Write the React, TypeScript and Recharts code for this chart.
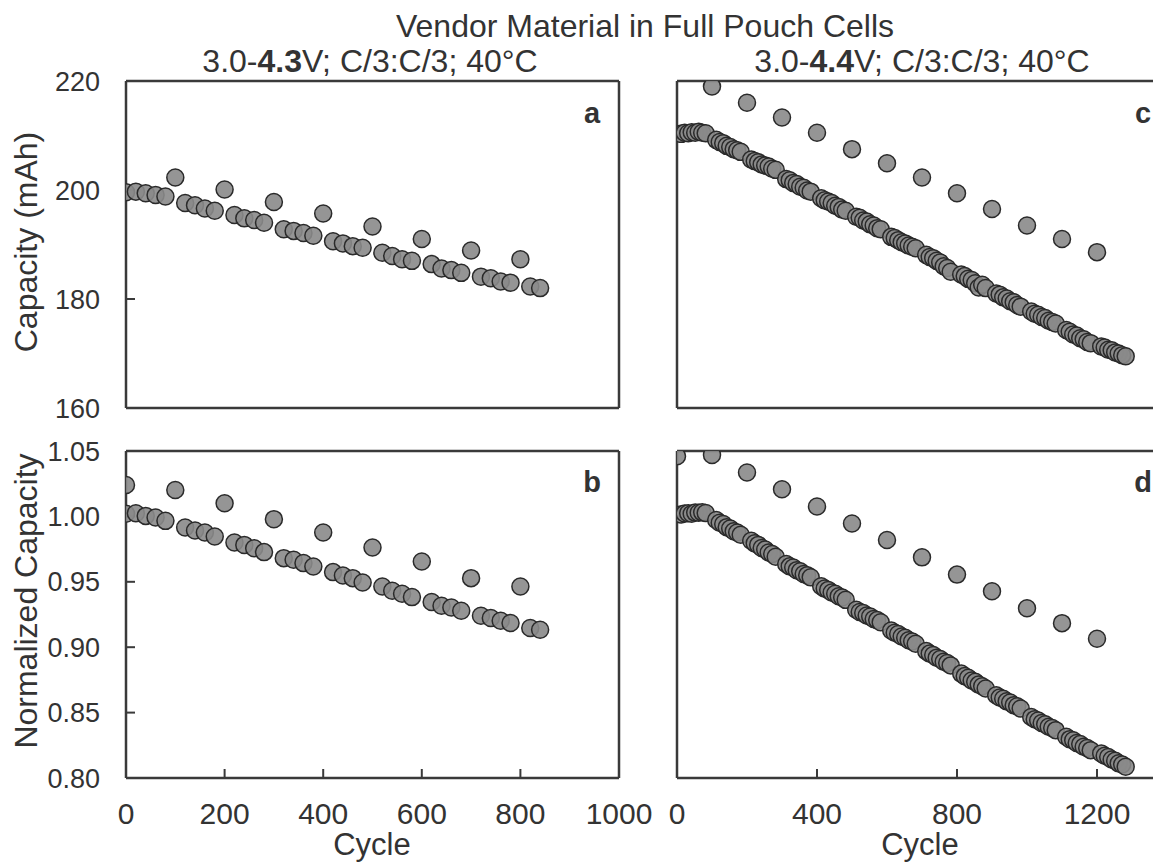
import React from 'react';
import { ScatterChart, Scatter, XAxis, YAxis } from 'recharts';

// 3.0-4.3V cell (panels a, b)
const cyclesLow = [
  0, 20, 40, 60, 80, 120, 140, 160, 180, 220, 240, 260, 280, 320, 340, 360, 380, 420,
  440, 460, 480, 520, 540, 560, 580, 620, 640, 660, 680, 720, 740, 760, 780, 820, 840,
];
const capLow = [
  199.6, 199.7, 199.4, 199.1, 198.8, 197.6, 197.2, 196.6, 196.2, 195.4, 194.8, 194.5, 194.0,
  192.8, 192.5, 192.1, 191.6, 190.6, 190.2, 189.7, 189.4, 188.5, 187.9, 187.3, 187.0, 186.4,
  185.6, 185.3, 184.8, 184.1, 183.8, 183.2, 183.0, 182.3, 182.0,
];
const normLow = [
  1.002, 1.0024, 1.0004, 0.9991, 0.9966, 0.9915, 0.9892, 0.9877, 0.9846, 0.98, 0.9782, 0.9757,
  0.9727, 0.9681, 0.9668, 0.9643, 0.9617, 0.9574, 0.9548, 0.9528, 0.9495, 0.9464, 0.9431,
  0.9408, 0.9383, 0.9345, 0.9317, 0.9304, 0.9279, 0.924, 0.9223, 0.9202, 0.9185, 0.9147, 0.9134,
];
const checkCyclesLowCap = [100, 200, 300, 400, 500, 600, 700, 800];
const checkCapLow = [202.3, 200.1, 197.8, 195.7, 193.3, 191.0, 188.9, 187.3];
const checkCyclesLowNorm = [0, 100, 200, 300, 400, 500, 600, 700, 800];
const checkNormLow = [1.024, 1.0202, 1.0101, 0.9979, 0.9877, 0.9762, 0.9655, 0.9528, 0.9464];

// 3.0-4.4V cell (panels c, d)
const cyclesHigh = [
  12, 22, 32, 42, 52, 62, 72, 82,
  112, 122, 132, 142, 152, 162, 172, 182,
  212, 222, 232, 242, 252, 262, 272, 282,
  312, 322, 332, 342, 352, 362, 372, 382,
  412, 422, 432, 442, 452, 462, 472, 482,
  512, 522, 532, 542, 552, 562, 572, 582,
  612, 622, 632, 642, 652, 662, 672, 682,
  712, 722, 732, 742, 752, 762, 772, 782,
  812, 822, 832, 842, 852, 862, 872, 882,
  912, 922, 932, 942, 952, 962, 972, 982,
  1012, 1022, 1032, 1042, 1052, 1062, 1072, 1082,
  1112, 1122, 1132, 1142, 1152, 1162, 1172, 1182,
  1212, 1222, 1232, 1242, 1252, 1262, 1272, 1282,
];
const capHigh = [
  210.3, 210.5, 210.4, 210.6, 210.5, 210.7, 210.5, 210.4,
  209.2, 208.8, 208.6, 208.1, 207.9, 207.5, 207.3, 207.0,
  205.6, 205.3, 205.1, 204.7, 204.5, 204.3, 203.9, 203.7,
  202.0, 201.8, 201.3, 201.1, 200.6, 200.4, 199.9, 199.7,
  198.5, 198.1, 197.9, 197.6, 197.1, 196.9, 196.4, 196.2,
  195.1, 194.9, 194.4, 194.2, 193.7, 193.5, 193.0, 192.8,
  191.4, 191.2, 190.8, 190.4, 190.2, 189.8, 189.6, 189.3,
  188.1, 187.7, 187.5, 187.0, 186.7, 186.0, 185.7, 185.0,
  184.5, 184.2, 183.7, 183.5, 182.9, 182.1, 182.6, 182.0,
  181.0, 180.8, 180.3, 180.1, 179.6, 179.4, 178.9, 178.6,
  177.7, 177.3, 177.1, 176.7, 176.5, 176.0, 175.8, 175.5,
  174.3, 174.0, 173.5, 173.3, 172.8, 172.6, 172.1, 171.9,
  171.3, 171.1, 170.7, 170.6, 170.2, 170.0, 169.7, 169.5,
];
const normHigh = [
  1.0015, 1.0022, 1.0024, 1.002, 1.0029, 1.0028, 1.0031, 1.0026,
  0.9972, 0.9951, 0.9942, 0.9918, 0.9908, 0.9886, 0.9877, 0.986,
  0.9814, 0.9794, 0.9782, 0.9759, 0.9747, 0.9724, 0.9712, 0.9692,
  0.9636, 0.9618, 0.9609, 0.9589, 0.958, 0.956, 0.9551, 0.9534,
  0.9466, 0.9448, 0.9438, 0.9418, 0.9409, 0.9389, 0.938, 0.9362,
  0.9286, 0.9269, 0.9261, 0.9242, 0.9234, 0.9215, 0.9207, 0.9191,
  0.9128, 0.9111, 0.9101, 0.9082, 0.9072, 0.9053, 0.9043, 0.9027,
  0.897, 0.8951, 0.8941, 0.892, 0.891, 0.8889, 0.8879, 0.8861,
  0.8798, 0.8779, 0.8767, 0.8746, 0.8735, 0.8714, 0.8702, 0.8684,
  0.8633, 0.8615, 0.8606, 0.8586, 0.8577, 0.8557, 0.8548, 0.8531,
  0.8467, 0.845, 0.844, 0.8421, 0.8411, 0.8392, 0.8382, 0.8366,
  0.8315, 0.8297, 0.8288, 0.8268, 0.8259, 0.8239, 0.823, 0.8213,
  0.8188, 0.817, 0.8161, 0.8141, 0.8132, 0.8112, 0.8103, 0.8086,
];
const checkCyclesHighCap = [100, 200, 300, 400, 500, 600, 700, 800, 900, 1000, 1100, 1200];
const checkCapHigh = [219.0, 216.0, 213.3, 210.5, 207.5, 204.9, 202.3, 199.4, 196.5, 193.5, 191.0, 188.6];
const checkCyclesHighNorm = [0, 100, 200, 300, 400, 500, 600, 700, 800, 900, 1000, 1100, 1200];
const checkNormHigh = [
  1.046, 1.047, 1.0335, 1.0208, 1.0076, 0.9946, 0.9819, 0.9687, 0.9555, 0.9428, 0.9298, 0.9184, 0.9065,
];

const xTicksLow = [0, 200, 400, 600, 800, 1000];
const xTicksHigh = [0, 400, 800, 1200];
const capTicks = [160, 180, 200, 220];
const normTicks = [0.8, 0.85, 0.9, 0.95, 1.0, 1.05];

const FONT = '"Liberation Sans", Arial, Helvetica, sans-serif';
const INK = '#333333';
const AXIS = '#3a3a3a';

const toPoints = (xs: number[], ys: number[]) => xs.map((x, i) => ({ x, y: ys[i] }));

const Dot = (p: any) => (
  <circle cx={p.cx} cy={p.cy} r={8.5} fill="#8a8a8a" fillOpacity={0.9} stroke="#2a2a2a" strokeWidth={1.5} />
);

type PanelProps = {
  left: number;
  top: number;
  marginLeft: number;
  marginRight: number;
  plotW: number;
  plotH: number;
  xDomain: [number, number];
  xTicks: number[];
  yDomain: [number, number];
  yTicks: number[];
  showX: boolean;
  showY: boolean;
  yFormat: (v: number) => string;
  series: { x: number; y: number }[][];
};

const TOP = 20;
const BOTTOM = 60;

// each axis takes 1px; margins are reduced by that so the plot box lands where wanted
function Panel({
  left, top, marginLeft, marginRight, plotW, plotH, xDomain, xTicks, yDomain, yTicks,
  showX, showY, yFormat, series,
}: PanelProps) {
  const margin = { top: TOP - 1, right: marginRight - 1, bottom: BOTTOM - 1, left: marginLeft - 1 };
  const axisCommon = {
    type: 'number' as const,
    allowDataOverflow: true,
    axisLine: { stroke: AXIS, strokeWidth: 2.5 },
    tickLine: { stroke: AXIS, strokeWidth: 2 },
    tickSize: -9,
    interval: 0 as const,
  };
  return (
    <div style={{ position: 'absolute', left, top }}>
      <ScatterChart
        width={marginLeft + plotW + marginRight}
        height={TOP + plotH + BOTTOM}
        margin={margin}
      >
        <XAxis
          {...axisCommon}
          xAxisId="b"
          dataKey="x"
          orientation="bottom"
          domain={xDomain}
          ticks={xTicks}
          height={1}
          tickMargin={34}
          tick={showX ? { fontSize: 30, fill: INK, fontFamily: FONT } : false}
        />
        <XAxis
          {...axisCommon}
          xAxisId="t"
          orientation="top"
          domain={xDomain}
          ticks={xTicks}
          height={1}
          tick={false}
        />
        <YAxis
          {...axisCommon}
          yAxisId="l"
          dataKey="y"
          orientation="left"
          domain={yDomain}
          ticks={yTicks}
          width={1}
          tickMargin={35}
          tickFormatter={yFormat}
          tick={showY ? { fontSize: 27, fill: INK, fontFamily: FONT } : false}
        />
        <YAxis
          {...axisCommon}
          yAxisId="r"
          orientation="right"
          domain={yDomain}
          ticks={yTicks}
          width={1}
          tick={false}
        />
        {series.map((pts, i) => (
          <Scatter
            key={i}
            data={pts}
            xAxisId="b"
            yAxisId="l"
            shape={Dot}
            isAnimationActive={false}
          />
        ))}
      </ScatterChart>
    </div>
  );
}

export default function App() {
  const capFmt = (v: number) => String(v);
  const normFmt = (v: number) => v.toFixed(2);
  return (
    <div style={{ position: 'relative', width: 1153, height: 855, overflow: 'hidden', fontFamily: FONT }}>
      <Panel
        left={18} top={53} marginLeft={100} marginRight={45} plotW={493} plotH={327}
        xDomain={[0, 1000]} xTicks={xTicksLow} yDomain={[160, 220]} yTicks={capTicks}
        showX={false} showY yFormat={capFmt}
        series={[toPoints(cyclesLow, capLow), toPoints(checkCyclesLowCap, checkCapLow)]}
      />
      <Panel
        left={18} top={423} marginLeft={100} marginRight={45} plotW={493} plotH={327}
        xDomain={[0, 1000]} xTicks={xTicksLow} yDomain={[0.8, 1.05]} yTicks={normTicks}
        showX showY yFormat={normFmt}
        series={[toPoints(cyclesLow, normLow), toPoints(checkCyclesLowNorm, checkNormLow)]}
      />
      <Panel
        left={649} top={53} marginLeft={20} marginRight={10} plotW={490} plotH={327}
        xDomain={[0, 1400]} xTicks={xTicksHigh} yDomain={[160, 220]} yTicks={capTicks}
        showX={false} showY={false} yFormat={capFmt}
        series={[toPoints(cyclesHigh, capHigh), toPoints(checkCyclesHighCap, checkCapHigh)]}
      />
      <Panel
        left={649} top={423} marginLeft={20} marginRight={10} plotW={490} plotH={327}
        xDomain={[0, 1400]} xTicks={xTicksHigh} yDomain={[0.8, 1.05]} yTicks={normTicks}
        showX showY={false} yFormat={normFmt}
        series={[toPoints(cyclesHigh, normHigh), toPoints(checkCyclesHighNorm, checkNormHigh)]}
      />
      <svg
        width={1153}
        height={855}
        style={{ position: 'absolute', left: 0, top: 0, pointerEvents: 'none' }}
        fontFamily={FONT}
        fill={INK}
      >
        <text x={637} y={29} fontSize={32} textAnchor="middle">Vendor Material in Full Pouch Cells</text>
        <text x={362} y={64} fontSize={32} textAnchor="middle">
          3.0-<tspan fontWeight="bold">4.3</tspan>V; C/3:C/3; 40°C
        </text>
        <text x={914} y={64} fontSize={32} textAnchor="middle">
          3.0-<tspan fontWeight="bold">4.4</tspan>V; C/3:C/3; 40°C
        </text>
        <text x={29} y={234} fontSize={32} textAnchor="middle" transform="rotate(-90 29 234)">
          Capacity (mAh)
        </text>
        <text x={29} y={593} fontSize={32} textAnchor="middle" transform="rotate(-90 29 593)">
          Normalized Capacity
        </text>
        <text x={364} y={847} fontSize={31} textAnchor="middle">Cycle</text>
        <text x={912} y={847} fontSize={31} textAnchor="middle">Cycle</text>
        <text x={584} y={115} fontSize={29} fontWeight="bold" textAnchor="middle">a</text>
        <text x={584} y={484} fontSize={29} fontWeight="bold" textAnchor="middle">b</text>
        <text x={1135} y={115} fontSize={29} fontWeight="bold" textAnchor="middle">c</text>
        <text x={1135} y={484} fontSize={29} fontWeight="bold" textAnchor="middle">d</text>
      </svg>
    </div>
  );
}
